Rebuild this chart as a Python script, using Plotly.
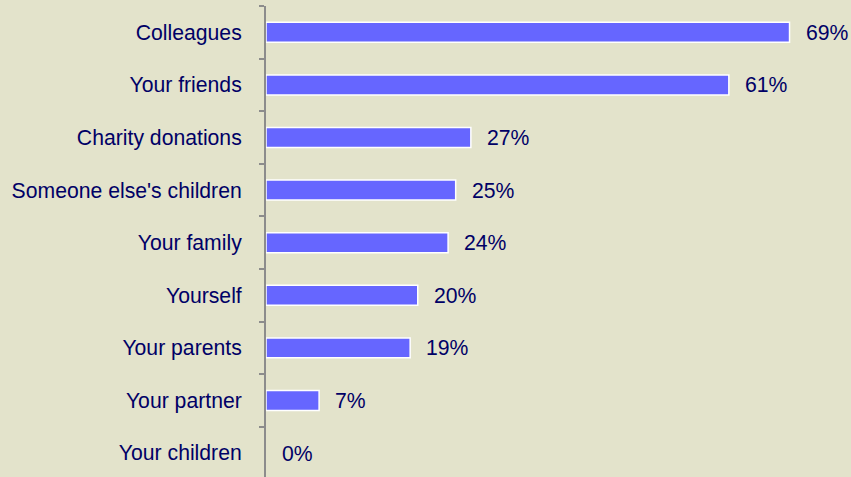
import plotly.graph_objects as go

categories = [
    "Colleagues",
    "Your friends",
    "Charity donations",
    "Someone else's children",
    "Your family",
    "Yourself",
    "Your parents",
    "Your partner",
    "Your children",
]
values = [69, 61, 27, 25, 24, 20, 19, 7, 0]

INK = "#000066"
BG = "#E3E3CB"
FONT = "Liberation Sans, Arial"

fig = go.Figure(go.Bar(
    x=values,
    y=categories,
    orientation="h",
    width=0.38,
    marker=dict(
        color="#6666FF",
        # no outline on an empty bar, so 0% leaves no sliver
        line=dict(color="white", width=[1.5 if v else 0 for v in values]),
    ),
    hoverinfo="skip",
))

for cat, v in zip(categories, values):
    fig.add_annotation(
        x=v, y=cat, text=f"{v}%", showarrow=False,
        xanchor="left", yanchor="middle", xshift=14,
        font=dict(family=FONT, size=21.2, color=INK),
    )

fig.update_layout(
    width=851, height=477,
    margin=dict(l=266, r=0, t=6, b=0),
    paper_bgcolor=BG, plot_bgcolor=BG,
    showlegend=False,
    font=dict(family=FONT, size=21.2, color=INK),
)
fig.update_xaxes(range=[0, 77.1], visible=False, fixedrange=True)
fig.update_yaxes(
    range=[8.455, -0.5],
    showline=True, linecolor="#8C8C8C", linewidth=2,
    ticks="outside", tickson="boundaries", ticklen=5, tickwidth=2, tickcolor="#8C8C8C",
    ticklabelstandoff=18,
    showgrid=False, zeroline=False, fixedrange=True,
)

# drop the default page margin so the chart sits at the window's corner
fig.write_html(
    "out.html",
    config={"displayModeBar": False},
    post_script="document.body.style.margin='0';",
)
